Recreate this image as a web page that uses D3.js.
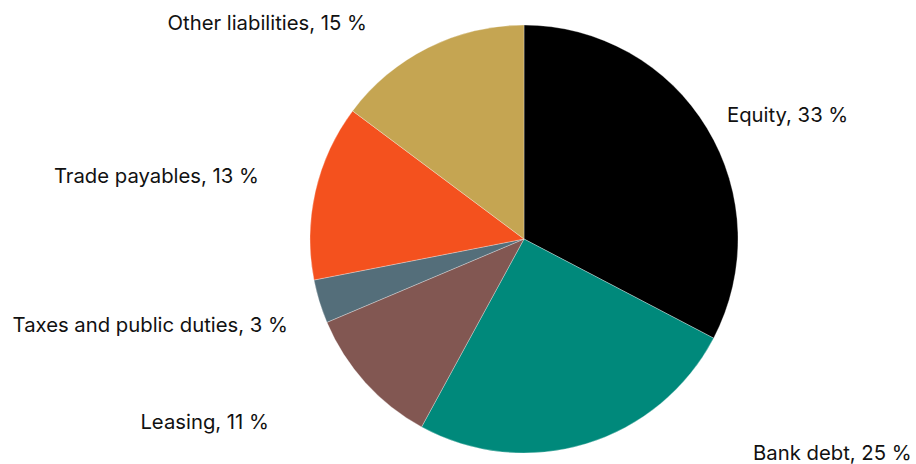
<!DOCTYPE html>
<html>
<head>
<meta charset="utf-8">
<script src="https://cdn.jsdelivr.net/npm/d3@7"></script>
<style>
html,body{margin:0;padding:0;background:#fff;}
svg{display:block;}
text{font-family:Inter, "Noto Sans", sans-serif;font-size:20.3px;fill:#111;}
</style>
</head>
<body>
<svg id="chart" width="916" height="464"></svg>
<script>
// Data
const categories = ["Equity","Bank debt","Leasing","Taxes and public duties","Trade payables","Other liabilities"];
const values = [32.7, 25.3, 10.7, 3.3, 13.3, 14.8];
const labelPercents = [33, 25, 11, 3, 13, 15];
const colors = ["#000000","#00897b","#825752","#546e7a","#f4511e","#c5a552"];

// Layout (label placement, outside data)
const cx = 524, cy = 239, radius = 214;
const labelLayout = [
  {x:727, y:122, anchor:"start"},
  {x:753, y:460, anchor:"start"},
  {x:269, y:429, anchor:"end"},
  {x:288, y:332, anchor:"end"},
  {x:259, y:183, anchor:"end"},
  {x:367, y:30,  anchor:"end"}
];

const svg = d3.select("#chart");
const pie = d3.pie().sort(null).value(d => d.v);
const arc = d3.arc().innerRadius(0).outerRadius(radius);
const data = categories.map((c,i) => ({c, v: values[i], p: labelPercents[i], i}));

const g = svg.append("g").attr("transform", `translate(${cx},${cy})`);
g.selectAll("path").data(pie(data)).join("path")
  .attr("d", arc)
  .attr("fill", d => colors[d.data.i])
  .attr("stroke", "#ffffff")
  .attr("stroke-width", 0.5)
  .attr("stroke-opacity", 0.6);

svg.selectAll("text.lbl").data(data).join("text")
  .attr("class","lbl")
  .attr("x", d => labelLayout[d.i].x)
  .attr("y", d => labelLayout[d.i].y)
  .attr("text-anchor", d => labelLayout[d.i].anchor)
  .text(d => `${d.c}, ${d.p} %`);
</script>
</body>
</html>
